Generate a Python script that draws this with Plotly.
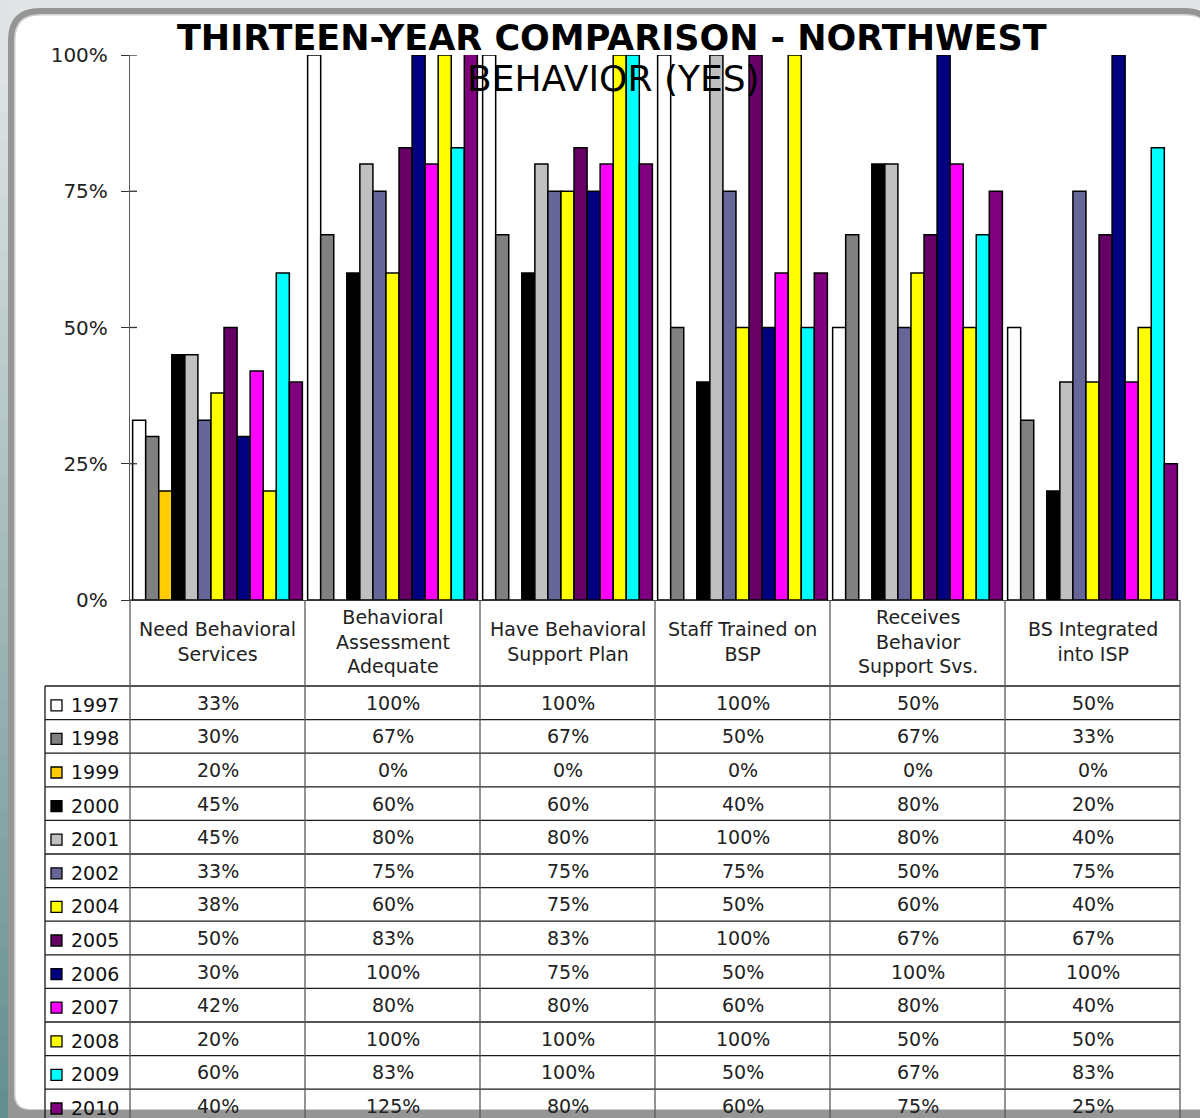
import plotly.graph_objects as go

categories = ['Need Behavioral Services', 'Behavioral Assessment Adequate', 'Have Behavioral Support Plan',
              'Staff Trained on BSP', 'Receives Behavior Support Svs.', 'BS Integrated into ISP']
header_labels = ['Need Behavioral<br>Services', 'Behavioral<br>Assessment<br>Adequate', 'Have Behavioral<br>Support Plan',
                 'Staff Trained on<br>BSP', 'Receives<br>Behavior<br>Support Svs.', 'BS Integrated<br>into ISP']
years = ['1997', '1998', '1999', '2000', '2001', '2002', '2004', '2005', '2006', '2007', '2008', '2009', '2010']
colors = ['#ffffff', '#808080', '#ffcc00', '#000000', '#c0c0c0', '#666699', '#ffff00',
          '#660066', '#000080', '#ff00ff', '#ffff00', '#00ffff', '#800080']

v1997 = [33, 100, 100, 100, 50, 50]
v1998 = [30, 67, 67, 50, 67, 33]
v1999 = [20, 0, 0, 0, 0, 0]
v2000 = [45, 60, 60, 40, 80, 20]
v2001 = [45, 80, 80, 100, 80, 40]
v2002 = [33, 75, 75, 75, 50, 75]
v2004 = [38, 60, 75, 50, 60, 40]
v2005 = [50, 83, 83, 100, 67, 67]
v2006 = [30, 100, 75, 50, 100, 100]
v2007 = [42, 80, 80, 60, 80, 40]
v2008 = [20, 100, 100, 100, 50, 50]
v2009 = [60, 83, 100, 50, 67, 83]
v2010 = [40, 125, 80, 60, 75, 25]
values = [v1997, v1998, v1999, v2000, v2001, v2002, v2004, v2005, v2006, v2007, v2008, v2009, v2010]

y_ticks = [0, 25, 50, 75, 100]

W, H = 1200, 1118
FONT = 'DejaVu Sans'


def px(x):
    return x / W


def py(y):
    return 1 - y / H


def path(points):
    # points: list of (cmd, [(x, y), ...]) in pixels
    out = []
    for cmd, pts in points:
        out.append(cmd + ' '.join(f'{px(x):.5f},{py(y):.5f}' for x, y in pts))
    return ' '.join(out) + ' Z'


def note(text, x, y, size, xref='paper', xanchor='center', color='#222222', align='center'):
    return dict(text=text, x=x, y=y, xref=xref, yref='paper', xanchor=xanchor, yanchor='middle',
                showarrow=False, align=align, font=dict(family=FONT, size=size, color=color))


fig = go.Figure()
for yr, col, vals in zip(years, colors, values):
    fig.add_trace(go.Bar(x=categories, y=vals, name=yr, marker_color=col,
                         marker_line_color='black', marker_line_width=1.5, showlegend=False))

shapes = []
# background strip gradient on the left
top_c = (0xdf, 0xe3, 0xe3)
bot_c = (0x62, 0x8d, 0x8d)
n = 40
for i in range(n):
    y0 = i * H / n
    t = max(0, (y0 - 60) / (H - 60))
    c = tuple(int(a + (b - a) * t) for a, b in zip(top_c, bot_c))
    shapes.append(dict(type='rect', xref='paper', yref='paper', x0=px(0), x1=px(9),
                       y0=py(y0), y1=py(y0 + H / n + 1), fillcolor='rgb(%d,%d,%d)' % c,
                       line_width=0, layer='below'))
# gray frame and white panel
shapes.append(dict(type='path', xref='paper', yref='paper', layer='below', fillcolor='#959595', line_width=0,
                   path=path([('M', [(8, 1140)]), ('L', [(8, 40)]), ('Q', [(8, 8), (40, 8)]),
                              ('L', [(1185, 8)]), ('Q', [(1215, 8), (1215, 40)]), ('L', [(1215, 1140)])])))
shapes.append(dict(type='path', xref='paper', yref='paper', layer='below', fillcolor='#cfcfcf', line_width=0,
                   path=path([('M', [(14, 1094)]), ('L', [(14, 40)]), ('Q', [(14, 14), (40, 14)]),
                              ('L', [(1185, 14)]), ('Q', [(1211, 14), (1211, 40)]), ('L', [(1211, 1110)]),
                              ('L', [(30, 1110)]), ('Q', [(14, 1110), (14, 1094)])])))
shapes.append(dict(type='path', xref='paper', yref='paper', layer='below', fillcolor='#ffffff', line_width=0,
                   path=path([('M', [(15.5, 1094)]), ('L', [(15.5, 40)]), ('Q', [(15.5, 15.5), (40, 15.5)]),
                              ('L', [(1185, 15.5)]), ('Q', [(1210, 15.5), (1210, 40)]), ('L', [(1210, 1109)]),
                              ('L', [(31, 1109)]), ('Q', [(15.5, 1109), (15.5, 1094)])])))

# inner half of the y ticks (they cross the axis line)
for tv in y_ticks:
    shapes.append(dict(type='line', xref='paper', yref='y', x0=px(130), x1=px(137), y0=tv, y1=tv,
                       line=dict(color='#333333', width=1.3)))

# table grid
row_top = 686
row_h = 33.6
col_edges = [130, 305, 480, 655, 830, 1005, 1180]
for k in range(len(years) + 1):
    yy = row_top + k * row_h
    shapes.append(dict(type='line', xref='paper', yref='paper', x0=px(45), x1=px(1180),
                       y0=py(yy), y1=py(yy), line=dict(color='#1a1a1a', width=1.3)))
shapes.append(dict(type='line', xref='paper', yref='paper', x0=px(45), x1=px(45),
                   y0=py(row_top), y1=0, line=dict(color='#1a1a1a', width=1.3)))
for xe in col_edges:
    shapes.append(dict(type='line', xref='paper', yref='paper', x0=px(xe), x1=px(xe),
                       y0=py(600), y1=0, line=dict(color='#5a5a5a', width=1.3)))

annotations = [
    note('<b>THIRTEEN-YEAR COMPARISON - NORTHWEST</b>', px(612), py(38), 35, color='black'),
    note('BEHAVIOR (YES)', px(613), py(79), 36, color='black'),
]
for cat, lab in zip(categories, header_labels):
    annotations.append(note(lab, cat, py(641), 19, xref='x'))
for i, (yr, col, vals) in enumerate(zip(years, colors, values)):
    yc = row_top + row_h * (i + 0.5)
    shapes.append(dict(type='rect', xref='paper', yref='paper', x0=px(51), x1=px(62),
                       y0=py(yc - 3), y1=py(yc + 8), fillcolor=col, line=dict(color='black', width=1.3)))
    annotations.append(note(yr, px(69), py(yc + 2), 19, xanchor='left', color='#111111'))
    for cat, v in zip(categories, vals):
        annotations.append(note(f'{v}%', cat, py(yc), 19, xref='x'))

fig.update_layout(
    width=W, height=H, margin=dict(l=0, r=0, t=0, b=0, autoexpand=False),
    paper_bgcolor='#e2e5e5', plot_bgcolor='white',
    barmode='group', bargap=0.03, bargroupgap=0,
    xaxis=dict(domain=[px(130), px(1180)], showticklabels=False, showline=True, linecolor='#333333',
               linewidth=1.3, ticks='', showgrid=False, automargin=False),
    yaxis=dict(domain=[py(600), py(55)], range=[0, 100], tickvals=y_ticks,
               ticktext=[f'{t}%' for t in y_ticks], automargin=False,
               showline=True, linecolor='#5a5a5a', linewidth=1.3, ticks='outside', ticklen=8,
               tickcolor='#333333', showgrid=False, zeroline=False, ticklabelstandoff=9,
               tickfont=dict(family=FONT, size=20, color='#222222')),
    shapes=shapes, annotations=annotations,
)
fig.write_html('out.html', config={'displayModeBar': False},
               post_script="document.body.style.margin='0';document.body.style.overflow='hidden';")
